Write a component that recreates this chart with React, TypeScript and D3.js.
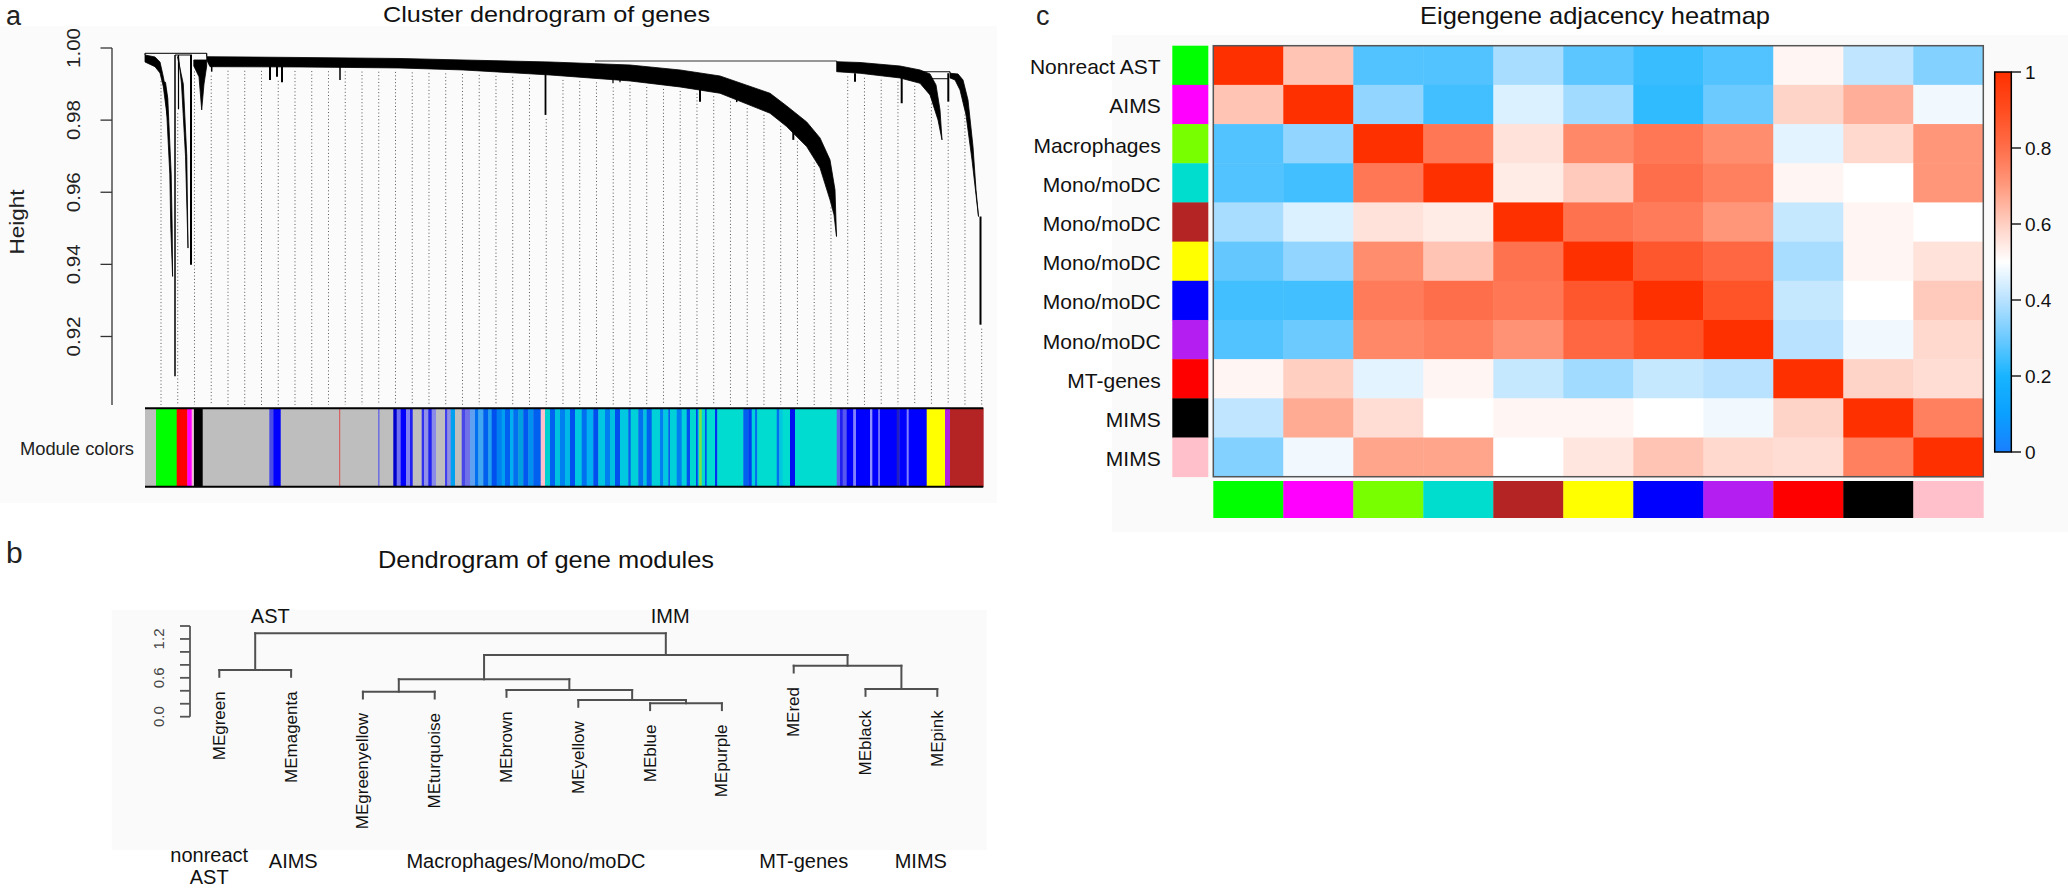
import React from "react";
import * as d3 from "d3";

const FONT = "'Liberation Sans', Arial, Helvetica, sans-serif";

// ================= Panel a: cluster dendrogram of genes =================
const geneCount = 8383; // genes in dendrogram leaf order
const heightTicks = [0.92, 0.94, 0.96, 0.98, 1.0];
const heightTickLabels = ["0.92", "0.94", "0.96", "0.98", "1.00"];
const heightAxisMin = 0.901;

// dense branch masses: [gene rank, height]; upper edge left->right, then lower edge right->left
const bandGreyGreen = {
  top: [[0, 0.99806], [100, 0.99751], [150, 0.99612], [183, 0.99205], [217, 0.98698], [230, 0.98006]],
  bottom: [[230, 0.98006], [217, 0.98199], [183, 0.98928], [150, 0.99307], [100, 0.99482], [0, 0.99612]],
};
const bandGreenTail = {
  top: [[205, 0.9905], [228, 0.986], [262, 0.965], [272, 0.95], [276, 0.93665]],
  bottom: [[276, 0.93665], [258, 0.95], [248, 0.965], [210, 0.986], [185, 0.9905]],
};
const bandRed = {
  top: [[335, 0.99759], [365, 0.99], [405, 0.97], [430, 0.94452]],
  bottom: [[430, 0.94452], [418, 0.97], [383, 0.99], [325, 0.99759]],
};
const bandBlack = {
  top: [[488, 0.99668], [617, 0.99668]],
  bottom: [[617, 0.995], [590, 0.99], [567, 0.98283], [540, 0.992], [488, 0.995]],
};
const bandMain = {
  top: [[617, 0.99759], [1550, 0.99737], [2550, 0.99709], [3180, 0.99668], [4050, 0.99612], [4850, 0.99529],
    [5350, 0.99391], [5750, 0.99224], [6250, 0.98745], [6417, 0.98393], [6617, 0.9795], [6750, 0.97507],
    [6850, 0.96898], [6900, 0.96066], [6915, 0.94773]],
  bottom: [[6915, 0.94773], [6890, 0.95374], [6850, 0.95789], [6750, 0.96676], [6617, 0.97266], [6417, 0.9782],
    [6250, 0.98191], [5750, 0.98745], [5350, 0.9892], [4850, 0.99086], [4050, 0.99252], [3180, 0.99391],
    [2550, 0.99446], [1550, 0.99474], [650, 0.99482], [617, 0.99668]],
};
const bandBlue = {
  top: [[6917, 0.9962], [7150, 0.99598], [7550, 0.99501], [7750, 0.99391], [7850, 0.9928], [7910, 0.98975],
    [7950, 0.98283], [7970, 0.97452]],
  bottom: [[7970, 0.97452], [7930, 0.98006], [7850, 0.98698], [7750, 0.99022], [7550, 0.99169], [7150, 0.99299],
    [6917, 0.99343]],
};
const bandBrown = {
  top: [[8050, 0.99299], [8130, 0.9928], [8180, 0.99114], [8230, 0.9856], [8280, 0.97266], [8310, 0.96066], [8335, 0.95327]],
  bottom: [[8335, 0.95327], [8270, 0.96897], [8210, 0.98144], [8150, 0.98837], [8100, 0.99114], [8050, 0.99169]],
};
const geneBands = [bandGreyGreen, bandGreenTail, bandRed, bandBlack, bandMain, bandBlue, bandBrown];

// single branches hanging out of the masses: [gene rank, top height, bottom height, stroke]
const geneDrops = [
  [300, 0.99806, 0.90895, 1.5],
  [335, 0.99806, 0.983, 1.2],
  [460, 0.99806, 0.93989, 2],
  [667, 0.997, 0.99343, 1.5],
  [1250, 0.9966, 0.99114, 2],
  [1320, 0.9966, 0.992, 2],
  [1370, 0.9966, 0.9905, 2],
  [1950, 0.9965, 0.99114, 1.5],
  [4005, 0.995, 0.98144, 1.8],
  [4680, 0.992, 0.99022, 1.2],
  [4750, 0.992, 0.9905, 1.2],
  [5550, 0.989, 0.98512, 2],
  [5917, 0.988, 0.985, 1.5],
  [5983, 0.9878, 0.98512, 1.5],
  [6483, 0.981, 0.97452, 2],
  [6683, 0.976, 0.97222, 1.5],
  [6783, 0.972, 0.96806, 1.5],
  [7100, 0.993, 0.99066, 2],
  [7567, 0.992, 0.98468, 2],
  [8033, 0.993, 0.98512, 2],
  [8355, 0.95327, 0.92327, 2],
  [0, 0.99853, 0.99806, 1.2],
  [617, 0.99853, 0.99759, 1.2],
  [6917, 0.9964, 0.9962, 1.2],
  [8050, 0.99343, 0.99299, 1.2],
];
// horizontal merges: [gene rank from, gene rank to, height]
const geneMerges = [
  [0, 617, 0.99853],
  [300, 470, 0.99806],
  [4500, 6917, 0.9964],
  [7750, 8050, 0.99343],
  [7850, 8033, 0.9915],
];
const guideCount = 50;
const guideFirstGene = 160;
const guideLastGene = 8367;

// module colour bar: [from gene rank, to gene rank, colour]
const moduleStripes = [
  [0, 110, "#BEBEBE"], [110, 317, "#00FF00"], [317, 423, "#FF0000"], [423, 467, "#FF00FF"], [467, 483, "#FFB0D8"],
  [483, 490, "#BEBEBE"], [490, 577, "#000000"], [577, 1243, "#BEBEBE"], [1243, 1283, "#4B4BE6"], [1283, 1357, "#0000FF"],
  [1357, 1943, "#BEBEBE"], [1943, 1953, "#E04040"], [1953, 2333, "#BEBEBE"], [2333, 2345, "#5050F0"], [2345, 2483, "#BEBEBE"],
  [2483, 2517, "#0000CC"], [2517, 2557, "#7070F0"], [2557, 2610, "#0000FF"], [2610, 2650, "#8080F0"], [2650, 2677, "#2020F0"],
  [2677, 2767, "#BEBEBE"], [2767, 2790, "#3030F0"], [2790, 2833, "#9090E8"], [2833, 2867, "#2020F0"], [2867, 2910, "#8A8AE8"],
  [2910, 3000, "#BEBEBE"], [3000, 3023, "#4040F0"], [3023, 3057, "#9090E0"], [3057, 3100, "#00A0F0"], [3100, 3167, "#BEBEBE"],
  [3167, 3200, "#4848E8"], [3200, 3250, "#7070E8"], [3250, 3300, "#60A0F0"], [3300, 3333, "#0070F0"], [3333, 3383, "#40A8F0"],
  [3383, 3433, "#0060F0"], [3433, 3467, "#20A0F0"], [3467, 3517, "#0050F0"], [3517, 3567, "#0080F0"], [3567, 3600, "#00A0F0"],
  [3600, 3650, "#0060F0"], [3650, 3683, "#00B0F0"], [3683, 3733, "#0070F0"], [3733, 3783, "#00A0E0"], [3783, 3833, "#0058F0"],
  [3833, 3883, "#0090F0"], [3883, 3957, "#0060F0"], [3957, 4000, "#FFC0CB"], [4000, 4050, "#00D0D0"], [4050, 4100, "#0060F0"],
  [4100, 4150, "#00C0E0"], [4150, 4200, "#0080F0"], [4200, 4250, "#00B8E8"], [4250, 4300, "#0050F0"], [4300, 4367, "#00C8E0"],
  [4367, 4417, "#0070F0"], [4417, 4483, "#00B0F0"], [4483, 4533, "#0050F0"], [4533, 4600, "#00C8E0"], [4600, 4650, "#0080F0"],
  [4650, 4700, "#00C0E0"], [4700, 4750, "#0050F0"], [4750, 4833, "#00C8E0"], [4833, 4857, "#0060F0"], [4857, 4933, "#00D0D8"],
  [4933, 4983, "#0070F0"], [4983, 5017, "#00C0E0"], [5017, 5067, "#0060F0"], [5067, 5150, "#00D0D8"], [5150, 5183, "#0080F0"],
  [5183, 5233, "#00C8E0"], [5233, 5250, "#0060F0"], [5250, 5317, "#00D0D8"], [5317, 5367, "#0080F0"], [5367, 5417, "#00D0D8"],
  [5417, 5450, "#0050F0"], [5450, 5510, "#00D8D0"], [5510, 5527, "#0040F0"], [5527, 5543, "#00D0D8"], [5543, 5567, "#80E040"],
  [5567, 5600, "#00D8D0"], [5600, 5617, "#0050F0"], [5617, 5700, "#00DDD0"], [5700, 5723, "#0030F0"], [5723, 5983, "#00DDD0"],
  [5983, 6033, "#0060F0"], [6033, 6067, "#0040F0"], [6067, 6100, "#00D0D8"], [6100, 6123, "#0070F0"], [6123, 6317, "#00DDD0"],
  [6317, 6343, "#0070F0"], [6343, 6377, "#00C8E0"], [6377, 6450, "#00DDD0"], [6450, 6500, "#0010F0"], [6500, 6917, "#00DDD0"],
  [6917, 6950, "#6060F0"], [6950, 6977, "#2020F0"], [6977, 7017, "#5858F0"], [7017, 7083, "#0000FF"], [7083, 7110, "#8080FF"],
  [7110, 7250, "#0000FF"], [7250, 7273, "#9090FF"], [7273, 7333, "#0000FF"], [7333, 7350, "#7070FF"], [7350, 7517, "#0000FF"],
  [7517, 7543, "#2020C0"], [7543, 7617, "#0000FF"], [7617, 7637, "#8080FF"], [7637, 7817, "#0000FF"], [7817, 8000, "#FFFF00"],
  [8000, 8050, "#B020E0"], [8050, 8383, "#B52424"],
];

// ================= Panel b: dendrogram of module eigengenes =================
const moduleLeaves = ["MEgreen", "MEmagenta", "MEgreenyellow", "MEturquoise", "MEbrown", "MEyellow",
  "MEblue", "MEpurple", "MEred", "MEblack", "MEpink"];
// hclust-style merges: negative = leaf (1-based), positive = earlier merge (1-based)
const moduleMerges = [
  [-7, -8, 0.207],
  [-6, 1, 0.258],
  [-3, -4, 0.386],
  [-5, 2, 0.412],
  [-10, -11, 0.427],
  [3, 4, 0.577],
  [-1, -2, 0.721],
  [-9, 5, 0.787],
  [6, 8, 0.952],
  [7, 9, 1.287],
];
const moduleAxisTicks = [0, 0.2, 0.4, 0.6, 0.8, 1.0, 1.2, 1.4];
const moduleAxisLabels = [0, 0.6, 1.2];
const leafHang = 0.105;
// group annotations, placed at leaf-order positions
const clusterTags = [{ text: "AST", pos: 0.71 }, { text: "IMM", pos: 6.28 }];
const groupTags = [
  { lines: ["nonreact", "AST"], pos: -0.14 },
  { lines: ["AIMS"], pos: 1.03 },
  { lines: ["Macrophages/Mono/moDC"], pos: 4.27 },
  { lines: ["MT-genes"], pos: 8.14 },
  { lines: ["MIMS"], pos: 9.77 },
];

// ================= Panel c: eigengene adjacency heatmap =================
const moduleColors = ["#00FF00", "#FF00FF", "#78FF00", "#00DDCE", "#B52424", "#FFFF00", "#0000FF",
  "#B41EF0", "#FF0000", "#000000", "#FFC0CB"];
const rowLabels = ["Nonreact AST", "AIMS", "Macrophages", "Mono/moDC", "Mono/moDC", "Mono/moDC",
  "Mono/moDC", "Mono/moDC", "MT-genes", "MIMS", "MIMS"];
const adjacency = [
  [1.0, 0.62, 0.27, 0.27, 0.38, 0.28, 0.24, 0.27, 0.52, 0.41, 0.33],
  [0.62, 1.0, 0.35, 0.25, 0.45, 0.37, 0.23, 0.3, 0.59, 0.66, 0.48],
  [0.27, 0.35, 1.0, 0.78, 0.56, 0.74, 0.78, 0.73, 0.46, 0.58, 0.71],
  [0.27, 0.25, 0.78, 1.0, 0.54, 0.61, 0.8, 0.76, 0.52, 0.5, 0.71],
  [0.38, 0.45, 0.56, 0.54, 1.0, 0.79, 0.77, 0.71, 0.42, 0.52, 0.5],
  [0.29, 0.35, 0.73, 0.62, 0.79, 1.0, 0.87, 0.82, 0.38, 0.52, 0.56],
  [0.25, 0.25, 0.77, 0.8, 0.78, 0.87, 1.0, 0.88, 0.42, 0.5, 0.61],
  [0.27, 0.3, 0.74, 0.76, 0.72, 0.82, 0.88, 1.0, 0.4, 0.48, 0.58],
  [0.52, 0.6, 0.46, 0.52, 0.42, 0.37, 0.42, 0.4, 1.0, 0.59, 0.57],
  [0.41, 0.67, 0.57, 0.5, 0.52, 0.52, 0.5, 0.48, 0.59, 1.0, 0.76],
  [0.33, 0.48, 0.68, 0.68, 0.5, 0.55, 0.62, 0.58, 0.57, 0.76, 1.0],
];
const colorStops = [0, 0.1, 0.2, 0.3, 0.4, 0.5, 0.6, 0.7, 0.8, 0.9, 1.0];
const colorStopColors = ["#1a7fff", "#0aa0ff", "#18b4ff", "#6ccaff", "#b8e2ff", "#ffffff",
  "#ffcfc2", "#ff9a7e", "#ff6e4a", "#ff4d20", "#ff3000"];
const colorbarTicks = [0, 0.2, 0.4, 0.6, 0.8, 1];
const colorbarTickLabels = ["0", "0.2", "0.4", "0.6", "0.8", "1"];

// ================= component =================
export default function App() {
  // ---- panel a scales ----
  const xA = d3.scaleLinear().domain([0, geneCount]).range([145, 983.3]);
  const yA = d3.scaleLinear().domain([heightAxisMin, 1.0]).range([405, 48]);
  const line = d3.line();

  const bandPaths = geneBands.map((b) =>
    line([...b.top, ...b.bottom].map(([g, h]) => [xA(g), yA(h)] as [number, number])) + "Z"
  );

  const interp = (pts: number[][], g: number) => {
    const s = [...pts].sort((a, b) => a[0] - b[0]);
    if (g < s[0][0] || g > s[s.length - 1][0]) return null;
    for (let i = 0; i < s.length - 1; i++) {
      if (g >= s[i][0] && g <= s[i + 1][0]) {
        const t = s[i + 1][0] === s[i][0] ? 0 : (g - s[i][0]) / (s[i + 1][0] - s[i][0]);
        return s[i][1] + t * (s[i + 1][1] - s[i][1]);
      }
    }
    return s[s.length - 1][1];
  };
  const lowestAt = (g: number) => {
    let low: number | null = null;
    geneBands.forEach((b) => {
      const v = interp(b.bottom, g);
      if (v !== null) low = low === null ? v : Math.min(low, v);
    });
    geneDrops.forEach(([dg, , hb]) => {
      if (Math.abs(dg - g) <= 20) low = low === null ? hb : Math.min(low, hb);
    });
    if (low === null) {
      geneMerges.forEach(([g1, g2, h]) => {
        if (g >= g1 && g <= g2) low = low === null ? h : Math.min(low, h);
      });
    }
    return low === null ? 0.99 : low;
  };
  const guides = d3.range(guideCount).map((i) => {
    const g = guideFirstGene + (i * (guideLastGene - guideFirstGene)) / (guideCount - 1);
    return { x: xA(g), y0: yA(lowestAt(g)) + 4 };
  });

  const barTop = 408.3;
  const barBottom = 486.7;

  // ---- panel b scales ----
  const xB = d3.scaleLinear().domain([0, moduleLeaves.length - 1]).range([219.3, 937.3]);
  const yB = d3.scaleLinear().domain([0, 1.4]).range([716.7, 626]);
  const nodes: { x: number; h: number }[] = [];
  const segs: [number, number, number, number][] = [];
  const leafEnds: { i: number; x: number; y: number }[] = [];
  moduleMerges.forEach(([a, b, h]) => {
    const kids = [a, b].map((c) =>
      c < 0 ? { x: xB(-c - 1), h: h - leafHang, leaf: -c - 1 } : { x: nodes[c - 1].x, h: nodes[c - 1].h, leaf: -1 }
    );
    segs.push([kids[0].x, yB(h), kids[1].x, yB(h)]);
    kids.forEach((k) => {
      segs.push([k.x, yB(h), k.x, yB(k.h)]);
      if (k.leaf >= 0) leafEnds.push({ i: k.leaf, x: k.x, y: yB(k.h) });
    });
    nodes.push({ x: (kids[0].x + kids[1].x) / 2, h });
  });

  // ---- panel c scales ----
  const idx = d3.range(moduleColors.length);
  const xC = d3.scaleBand<number>().domain(idx).range([1213.3, 1983.3]);
  const yC = d3.scaleBand<number>().domain(idx).range([45.7, 476.7]);
  const color = d3.scaleLinear<string>().domain(colorStops).range(colorStopColors).interpolate(d3.interpolateRgb);
  const cbY = d3.scaleLinear().domain([0, 1]).range([452, 72]);
  const bw = xC.bandwidth();
  const bh = yC.bandwidth();

  return (
    <svg
      width={2068}
      height={888}
      style={{ position: "absolute", left: 0, top: 0, background: "#ffffff", fontFamily: FONT }}
    >
      <defs>
        <linearGradient id="cbar" x1="0" y1="1" x2="0" y2="0">
          {colorStops.map((s, i) => (
            <stop key={i} offset={`${s * 100}%`} stopColor={colorStopColors[i]} />
          ))}
        </linearGradient>
      </defs>
      <rect x={0} y={0} width={2068} height={888} fill="#ffffff" />
      {/* faint panel backgrounds */}
      <rect x={0} y={26} width={997} height={477} fill="#fbfbfb" />
      <rect x={111.7} y={610} width={875} height={240} fill="#fafafa" />
      <rect x={1112} y={35} width={956} height={497} fill="#fafafa" />

      {/* ================= Panel a ================= */}
      <text x={6} y={24.5} fontSize={27} fill="#222">a</text>
      <text x={546.5} y={22} fontSize={22} textAnchor="middle" textLength={327} lengthAdjust="spacingAndGlyphs" fill="#111">
        Cluster dendrogram of genes
      </text>
      <text transform="translate(24,222) rotate(-90)" fontSize={20} textAnchor="middle" textLength={65} lengthAdjust="spacingAndGlyphs" fill="#222">
        Height
      </text>
      <line x1={112} x2={112} y1={yA(1.0)} y2={yA(heightAxisMin)} stroke="#333" strokeWidth={1.3} />
      {heightTicks.map((t, i) => (
        <g key={i}>
          <line x1={100.5} x2={112} y1={yA(t)} y2={yA(t)} stroke="#333" strokeWidth={1.3} />
          <text transform={`translate(80,${yA(t)}) rotate(-90)`} fontSize={19} textAnchor="middle" textLength={40} lengthAdjust="spacingAndGlyphs" fill="#222">
            {heightTickLabels[i]}
          </text>
        </g>
      ))}
      {guides.map((gd, i) => (
        <line key={i} x1={gd.x} x2={gd.x} y1={gd.y0} y2={405} stroke="#555" strokeWidth={1} strokeDasharray="1 2.4" />
      ))}
      {geneMerges.map(([g1, g2, h], i) => (
        <line key={i} x1={xA(g1)} x2={xA(g2)} y1={yA(h)} y2={yA(h)} stroke="#333" strokeWidth={1.2} />
      ))}
      {bandPaths.map((p, i) => (
        <path key={i} d={p} fill="#000" stroke="#000" strokeWidth={0.8} strokeLinejoin="round" />
      ))}
      {geneDrops.map(([g, ht, hb, w], i) => (
        <line key={i} x1={xA(g)} x2={xA(g)} y1={yA(ht)} y2={yA(hb)} stroke="#000" strokeWidth={w} />
      ))}
      {/* module colour bar */}
      <rect x={xA(0)} y={barTop} width={xA(geneCount) - xA(0)} height={barBottom - barTop} fill="#BEBEBE" />
      {moduleStripes.map(([s, e, c], i) => (
        <rect key={i} x={xA(s as number)} y={barTop} width={xA(e as number) - xA(s as number) + 0.3} height={barBottom - barTop} fill={c as string} />
      ))}
      <line x1={xA(0)} x2={xA(geneCount)} y1={barTop} y2={barTop} stroke="#000" strokeWidth={2} />
      <line x1={xA(0)} x2={xA(geneCount)} y1={barBottom} y2={barBottom} stroke="#000" strokeWidth={2} />
      <text x={134} y={454.5} fontSize={18} textAnchor="end" textLength={114} lengthAdjust="spacingAndGlyphs" fill="#222">
        Module colors
      </text>

      {/* ================= Panel b ================= */}
      <text x={6} y={563} fontSize={30} fill="#222">b</text>
      <text x={546} y={568} fontSize={24} textAnchor="middle" textLength={336} lengthAdjust="spacingAndGlyphs" fill="#111">
        Dendrogram of gene modules
      </text>
      <line x1={190} x2={190} y1={yB(0)} y2={yB(1.4)} stroke="#555" strokeWidth={1.8} />
      {moduleAxisTicks.map((t, i) => (
        <line key={i} x1={180} x2={190} y1={yB(t)} y2={yB(t)} stroke="#555" strokeWidth={1.8} />
      ))}
      {moduleAxisLabels.map((t, i) => (
        <text key={i} transform={`translate(164,${yB(t)}) rotate(-90)`} fontSize={15} textAnchor="middle" fill="#444">
          {t.toFixed(1)}
        </text>
      ))}
      {segs.map(([x1, y1, x2, y2], i) => (
        <line key={i} x1={x1} y1={y1} x2={x2} y2={y2} stroke="#505050" strokeWidth={2} strokeLinecap="square" />
      ))}
      {leafEnds.map((l) => (
        <text key={l.i} transform={`translate(${l.x},${l.y + 14.5}) rotate(-90)`} fontSize={17} textAnchor="end" dominantBaseline="central" fill="#111">
          {moduleLeaves[l.i]}
        </text>
      ))}
      {clusterTags.map((t, i) => (
        <text key={i} x={xB(t.pos)} y={623} fontSize={20} textAnchor="middle" fill="#111">
          {t.text}
        </text>
      ))}
      {groupTags.map((t, i) =>
        t.lines.map((ln, j) => (
          <text key={`${i}-${j}`} x={xB(t.pos)} y={t.lines.length > 1 ? 862 + j * 21.5 : 868} fontSize={20} textAnchor="middle" fill="#111">
            {ln}
          </text>
        ))
      )}

      {/* ================= Panel c ================= */}
      <text x={1036} y={24.5} fontSize={27} fill="#222">c</text>
      <text x={1595} y={24} fontSize={24} textAnchor="middle" textLength={350} lengthAdjust="spacingAndGlyphs" fill="#111">
        Eigengene adjacency heatmap
      </text>
      {adjacency.map((row, i) =>
        row.map((v, j) => (
          <rect key={`${i}-${j}`} x={xC(j)} y={yC(i)} width={bw + 0.5} height={bh + 0.5} fill={color(v)} />
        ))
      )}
      <rect x={1213.3} y={45.7} width={770} height={431} fill="none" stroke="#555" strokeWidth={1.5} />
      {moduleColors.map((c, i) => (
        <rect key={`r${i}`} x={1172.3} y={yC(i)} width={36} height={bh + 0.4} fill={c} />
      ))}
      {moduleColors.map((c, j) => (
        <rect key={`c${j}`} x={xC(j)} y={481} width={bw + 0.4} height={37} fill={c} />
      ))}
      {rowLabels.map((lab, i) => (
        <text key={i} x={1160.7} y={(yC(i) as number) + bh / 2 + 9} fontSize={21} textAnchor="end" fill="#111">
          {lab}
        </text>
      ))}
      {/* colour key */}
      <rect x={1994.7} y={cbY(1)} width={16.6} height={cbY(0) - cbY(1)} fill="url(#cbar)" stroke="#000" strokeWidth={1.5} />
      {colorbarTicks.map((t, i) => (
        <g key={i}>
          <line x1={2011.3} x2={2021} y1={cbY(t)} y2={cbY(t)} stroke="#000" strokeWidth={1.3} />
          <text x={2025} y={cbY(t) + 7} fontSize={19} fill="#111">
            {colorbarTickLabels[i]}
          </text>
        </g>
      ))}
    </svg>
  );
}
